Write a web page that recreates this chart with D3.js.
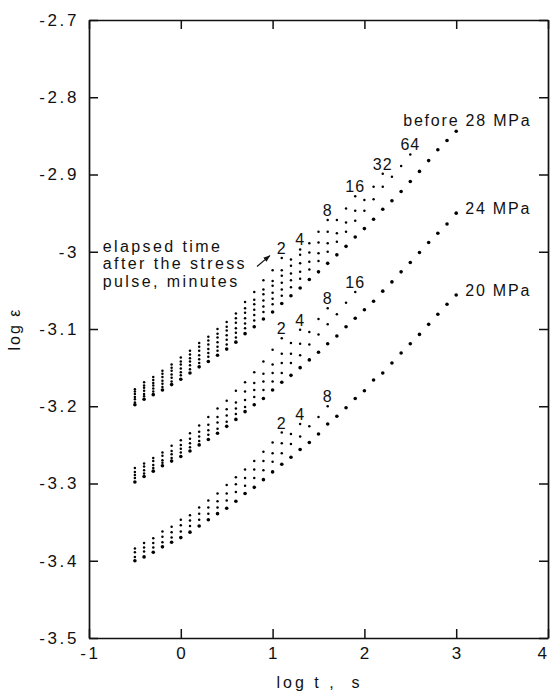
<!DOCTYPE html>
<html>
<head>
<meta charset="utf-8">
<script src="https://cdn.jsdelivr.net/npm/d3@7"></script>
<style>
  body { margin: 0; background: #fff; }
  svg { display: block; }
  text { font-family: "Liberation Sans", Arial, Helvetica, sans-serif; fill: #111; }
</style>
</head>
<body>
<script>
'use strict';

// log t (s) at which points were read
const logT = [-0.5, -0.4, -0.3, -0.2, -0.1, 0, 0.1, 0.2, 0.3, 0.4, 0.5, 0.6, 0.7, 0.8, 0.9, 1.0,
  1.1, 1.2, 1.3, 1.4, 1.5, 1.6, 1.7, 1.8, 1.9, 2.0, 2.1, 2.2, 2.3, 2.4, 2.5, 2.6, 2.7, 2.8, 2.9, 3.0];

// 28 MPa
const mpa28Before = [-3.198, -3.191, -3.185, -3.179, -3.172, -3.165, -3.157, -3.149, -3.142, -3.134, -3.126, -3.117,
  -3.106, -3.097, -3.087, -3.078, -3.067, -3.057, -3.047, -3.036, -3.026, -3.015, -3.004, -2.993, -2.981, -2.970,
  -2.958, -2.945, -2.934, -2.922, -2.909, -2.896, -2.882, -2.868, -2.856, -2.844];
const mpa28Min64 = [-3.195, -3.187, -3.181, -3.175, -3.168, -3.160, -3.152, -3.144, -3.136, -3.128, -3.120, -3.111,
  -3.099, -3.089, -3.078, -3.068, -3.057, -3.046, -3.035, -3.023, -3.012, -3.000, -2.987, -2.974, -2.960, -2.947,
  -2.932, -2.916, -2.903, -2.889, -2.874];
const mpa28Min32 = [-3.191, -3.184, -3.177, -3.171, -3.163, -3.156, -3.147, -3.139, -3.131, -3.123, -3.114, -3.105,
  -3.093, -3.082, -3.071, -3.061, -3.049, -3.037, -3.026, -3.013, -3.002, -2.989, -2.976, -2.962, -2.947, -2.933,
  -2.916, -2.899];
const mpa28Min16 = [-3.188, -3.180, -3.173, -3.167, -3.159, -3.151, -3.142, -3.134, -3.126, -3.117, -3.108, -3.099,
  -3.086, -3.075, -3.063, -3.053, -3.040, -3.028, -3.015, -3.001, -2.988, -2.974, -2.959, -2.944, -2.928];
const mpa28Min8 = [-3.184, -3.176, -3.170, -3.162, -3.154, -3.146, -3.138, -3.128, -3.120, -3.111, -3.102, -3.092,
  -3.079, -3.068, -3.055, -3.044, -3.031, -3.018, -3.004, -2.989, -2.974, -2.959];
const mpa28Min4 = [-3.181, -3.173, -3.166, -3.158, -3.150, -3.142, -3.133, -3.123, -3.115, -3.106, -3.097, -3.086,
  -3.073, -3.062, -3.049, -3.038, -3.024, -3.010, -2.997];
const mpa28Min2 = [-3.178, -3.169, -3.162, -3.154, -3.146, -3.137, -3.128, -3.118, -3.110, -3.100, -3.091, -3.080,
  -3.065, -3.052, -3.037, -3.024, -3.008];

// 24 MPa
const mpa24Before = [-3.298, -3.291, -3.284, -3.277, -3.271, -3.265, -3.258, -3.250, -3.243, -3.235, -3.226, -3.217,
  -3.207, -3.198, -3.190, -3.179, -3.169, -3.160, -3.150, -3.140, -3.130, -3.119, -3.109, -3.097, -3.086, -3.075,
  -3.064, -3.051, -3.039, -3.026, -3.014, -3.001, -2.988, -2.976, -2.964, -2.950];
const mpa24Min16 = [-3.293, -3.287, -3.280, -3.273, -3.267, -3.260, -3.253, -3.245, -3.237, -3.229, -3.220, -3.210,
  -3.201, -3.188, -3.179, -3.168, -3.157, -3.144, -3.134, -3.120, -3.107, -3.094, -3.081, -3.066, -3.052];
const mpa24Min8 = [-3.289, -3.283, -3.276, -3.270, -3.262, -3.255, -3.248, -3.239, -3.231, -3.221, -3.212, -3.203,
  -3.192, -3.179, -3.168, -3.157, -3.144, -3.132, -3.119, -3.104, -3.087, -3.073];
const mpa24Min4 = [-3.285, -3.278, -3.271, -3.264, -3.258, -3.250, -3.242, -3.233, -3.224, -3.214, -3.204, -3.195,
  -3.181, -3.170, -3.158, -3.146, -3.132, -3.118, -3.101];
const mpa24Min2 = [-3.280, -3.274, -3.267, -3.260, -3.251, -3.244, -3.235, -3.225, -3.214, -3.203, -3.193, -3.180,
  -3.169, -3.156, -3.142, -3.127, -3.112];

// 20 MPa
const mpa20Before = [-3.400, -3.395, -3.389, -3.382, -3.376, -3.370, -3.363, -3.355, -3.347, -3.339, -3.332, -3.323,
  -3.313, -3.305, -3.295, -3.285, -3.275, -3.266, -3.256, -3.247, -3.236, -3.223, -3.213, -3.202, -3.190, -3.180,
  -3.166, -3.157, -3.144, -3.131, -3.119, -3.107, -3.094, -3.081, -3.068, -3.056];
const mpa20Min8 = [-3.395, -3.388, -3.383, -3.376, -3.370, -3.362, -3.355, -3.347, -3.339, -3.331, -3.322, -3.311,
  -3.303, -3.293, -3.283, -3.272, -3.261, -3.249, -3.239, -3.226, -3.214, -3.200];
const mpa20Min4 = [-3.389, -3.383, -3.377, -3.369, -3.363, -3.354, -3.348, -3.339, -3.331, -3.323, -3.313, -3.301,
  -3.293, -3.282, -3.271, -3.261, -3.248, -3.236, -3.223];
const mpa20Min2 = [-3.384, -3.377, -3.371, -3.362, -3.356, -3.347, -3.341, -3.331, -3.322, -3.313, -3.302, -3.292,
  -3.282, -3.271, -3.259, -3.247, -3.234];

const xTicks = [-1, 0, 1, 2, 3, 4];
const yTicks = [-3.5, -3.4, -3.3, -3.2, -3.1, -3.0, -2.9, -2.8, -2.7];
const noteLines = ["elapsed time", "after the stress", "pulse, minutes"];

// curves: "before" ones carry the stress label, the others the minutes label
const curves = [
  {values: mpa28Before, before: true, label: "before 28 MPa", dx: -53, dy: -5, anchor: "start"},
  {values: mpa28Min64, label: "64"},
  {values: mpa28Min32, label: "32"},
  {values: mpa28Min16, label: "16"},
  {values: mpa28Min8, label: "8"},
  {values: mpa28Min4, label: "4"},
  {values: mpa28Min2, label: "2"},
  {values: mpa24Before, before: true, label: "24 MPa", dx: 9, dy: 1, anchor: "start"},
  {values: mpa24Min16, label: "16"},
  {values: mpa24Min8, label: "8"},
  {values: mpa24Min4, label: "4"},
  {values: mpa24Min2, label: "2"},
  {values: mpa20Before, before: true, label: "20 MPa", dx: 9, dy: 1, anchor: "start"},
  {values: mpa20Min8, label: "8"},
  {values: mpa20Min4, label: "4"},
  {values: mpa20Min2, label: "2"}
];

const width = 551, height = 695;
const margin = {top: 20, right: 3, bottom: 57, left: 89};

const svg = d3.select('body').append('svg')
  .attr('width', width)
  .attr('height', height);

const x = d3.scaleLinear().domain([-1, 4]).range([margin.left, width - margin.right]);
const y = d3.scaleLinear().domain([-3.5, -2.7]).range([height - margin.bottom, margin.top]);

// axes, ticks pointing inward on all four sides
const fmtY = d => String(+d.toFixed(1));
const fmtX = d => String(d);

function styleAxis(g) {
  g.select('.domain').attr('stroke', '#111').attr('stroke-width', 1.7);
  g.selectAll('.tick line').attr('stroke', '#111').attr('stroke-width', 1.5);
  g.selectAll('text')
    .style('font-size', '17px')
    .style('letter-spacing', '2.6px')
    .attr('fill', '#111');
}

svg.append('g')
  .attr('transform', `translate(0,${y(-3.5)})`)
  .call(d3.axisBottom(x).tickValues(xTicks).tickFormat(fmtX).tickSizeInner(-9).tickSizeOuter(0).tickPadding(9))
  .call(styleAxis)
  .selectAll('text').attr('dx', d => d === 4 ? '-5px' : '1px');

svg.append('g')
  .attr('transform', `translate(${x(-1)},0)`)
  .call(d3.axisLeft(y).tickValues(yTicks).tickFormat(fmtY).tickSizeInner(-9).tickSizeOuter(0).tickPadding(10))
  .call(styleAxis);

svg.append('g')
  .attr('transform', `translate(0,${y(-2.7)})`)
  .call(d3.axisTop(x).tickValues(xTicks).tickFormat('').tickSizeInner(-9).tickSizeOuter(0))
  .call(styleAxis);

svg.append('g')
  .attr('transform', `translate(${x(4)},0)`)
  .call(d3.axisRight(y).tickValues(yTicks).tickFormat('').tickSizeInner(-9).tickSizeOuter(0))
  .call(styleAxis);

// axis titles
svg.append('text')
  .attr('x', (x(-1) + x(4)) / 2 + 1)
  .attr('y', 688)
  .attr('text-anchor', 'middle')
  .style('font-size', '16px')
  .style('letter-spacing', '3px')
  .style('white-space', 'pre')
  .text('log t ,  s');

svg.append('text')
  .attr('transform', `translate(20,${(y(-3.5) + y(-2.7)) / 2}) rotate(-90)`)
  .attr('text-anchor', 'middle')
  .style('font-size', '16px')
  .style('letter-spacing', '2px')
  .text('log ε');

// data points
const plot = svg.append('g');
curves.forEach(c => {
  const pts = c.values.map((v, i) => [logT[i], v]);
  plot.append('g').selectAll('circle')
    .data(pts)
    .enter()
    .append('circle')
    .attr('cx', d => x(d[0]))
    .attr('cy', d => y(d[1]))
    .attr('r', c.before ? 1.8 : 1.25)
    .attr('fill', '#000');

  const last = pts[pts.length - 1];
  plot.append('text')
    .attr('x', x(last[0]) + (c.dx || 0))
    .attr('y', y(last[1]) + (c.dy === undefined ? -4 : c.dy))
    .attr('text-anchor', c.anchor || 'middle')
    .style('font-size', '16px')
    .style('letter-spacing', c.before ? '1.8px' : '1px')
    .text(c.label);
});

// note with arrow pointing at the "2" curve of 28 MPa
const note = svg.append('text')
  .attr('x', x(-0.85))
  .attr('y', y(-3.0))
  .style('font-size', '16px')
  .style('letter-spacing', '2.4px');
note.selectAll('tspan')
  .data(noteLines)
  .enter()
  .append('tspan')
  .attr('x', x(-0.85))
  .attr('dy', (d, i) => i === 0 ? 0 : 17.5)
  .text(d => d);

svg.append('defs').append('marker')
  .attr('id', 'head')
  .attr('viewBox', '0 0 10 10')
  .attr('refX', 9).attr('refY', 5)
  .attr('markerWidth', 6).attr('markerHeight', 6)
  .attr('orient', 'auto')
  .append('path')
  .attr('d', 'M0,1.5 L10,5 L0,8.5 Z')
  .attr('fill', '#111');

svg.append('line')
  .attr('x1', x(0.83)).attr('y1', y(-3.019))
  .attr('x2', x(0.97)).attr('y2', y(-3.005))
  .attr('stroke', '#111')
  .attr('stroke-width', 1.2)
  .attr('marker-end', 'url(#head)');
</script>
</body>
</html>
